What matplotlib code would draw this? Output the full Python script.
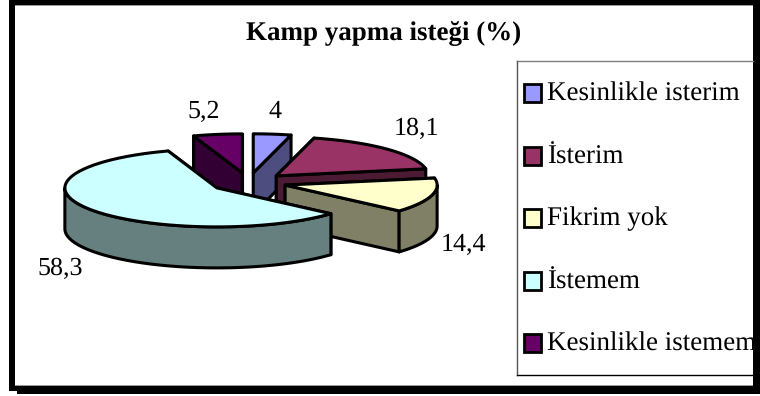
import matplotlib
matplotlib.use('Agg')
import matplotlib.pyplot as plt
import numpy as np
from matplotlib.patches import Polygon, Rectangle

plt.rcParams['font.family'] = ['Liberation Serif', 'DejaVu Serif']
plt.rcParams['text.hinting'] = 'none'
plt.rcParams['text.hinting_factor'] = 1

title = 'Kamp yapma isteği (%)'
categories = ['Kesinlikle isterim', 'İsterim', 'Fikrim yok', 'İstemem', 'Kesinlikle istemem']
values = [4, 18.1, 14.4, 58.3, 5.2]
value_labels = ['4', '18,1', '14,4', '58,3', '5,2']

colors = ['#9999FF', '#993366', '#FFFFCC', '#CCFFFF', '#660066']
side_colors = ['#4D4D80', '#4D1A33', '#808066', '#668080', '#330033']

# pie geometry in pixels
cx, cy = 248.5, 182.5
rx, ry = 152, 39
depth = 41
explode = 38

label_pos = [(275, 112), (416, 129), (463, 245), (60, 269), (204, 112)]
legend_y = [94, 157, 219, 282, 344]


def rim(ax0, ay0, t0, t1, n=60):
    t = np.radians(np.linspace(t0, t1, n))
    return np.column_stack([ax0 + rx*np.sin(t), ay0 - ry*np.cos(t)])


fig = plt.figure(figsize=(7.6, 3.96), dpi=100)
ax = fig.add_axes([0, 0, 1, 1])
ax.set_xlim(0, 760)
ax.set_ylim(396, 0)
ax.axis('off')

# frame with shadow
ax.add_patch(Rectangle((9, 0), 744, 391, fc='black', ec='none'))
ax.add_patch(Rectangle((17, 388), 743, 6, fc='black', ec='none'))
ax.add_patch(Rectangle((753, 0), 7, 394, fc='black', ec='none'))
ax.add_patch(Rectangle((15, 4.5), 738, 381.5, fc='#9a9a9a', ec='none'))
ax.add_patch(Rectangle((15, 5.5), 738, 379.5, fc='white', ec='none'))

ax.text(383.5, 33, title, ha='center', va='center', fontsize=19.1, fontweight='bold', color='black')

# slices
starts = np.cumsum([0] + values[:-1]) / np.sum(values) * 360
ends = np.cumsum(values) / np.sum(values) * 360
lw = 2.2

order = [4, 0, 1, 2, 3]
for i in order:
    t0, t1 = starts[i], ends[i]
    mid = np.radians((t0 + t1) / 2)
    ax0 = cx + explode*np.sin(mid)
    ay0 = cy - explode*np.cos(mid)*ry/rx
    apex = np.array([ax0, ay0])
    down = np.array([0, depth])
    top_rim = rim(ax0, ay0, t0, t1)

    # cut faces, the ones that face the viewer
    for t in (t0, t1):
        p = rim(ax0, ay0, t, t, 1)[0]
        ax.add_patch(Polygon([apex, p, p + down, apex + down], closed=True,
                             fc=side_colors[i], ec='black', lw=lw, joinstyle='round'))

    # outer wall, front half only
    a, b = max(t0, 90), min(t1, 270)
    if a < b:
        wall = rim(ax0, ay0, a, b)
        ax.add_patch(Polygon(np.vstack([wall, (wall + down)[::-1]]), closed=True,
                             fc=side_colors[i], ec='black', lw=lw, joinstyle='round'))

    ax.add_patch(Polygon(np.vstack([apex, top_rim]), closed=True,
                         fc=colors[i], ec='black', lw=lw, joinstyle='round'))

for (x, y), s in zip(label_pos, value_labels):
    ax.text(x, y, s, ha='center', va='center', fontsize=19, color='black')

# legend box
ax.plot([517, 753], [61, 61], color='#808080', lw=1)
ax.plot([517, 517], [61, 375], color='#555555', lw=1)
ax.plot([517, 753], [375, 375], color='black', lw=1)
for y, name, c in zip(legend_y, categories, colors):
    ax.add_patch(Rectangle((523.5, y - 10.5), 17.5, 18, fc=c, ec='black', lw=2))
    ax.text(547, y, name, ha='left', va='center', fontsize=19.2, color='black')

fig.savefig('out.png', dpi=100)
